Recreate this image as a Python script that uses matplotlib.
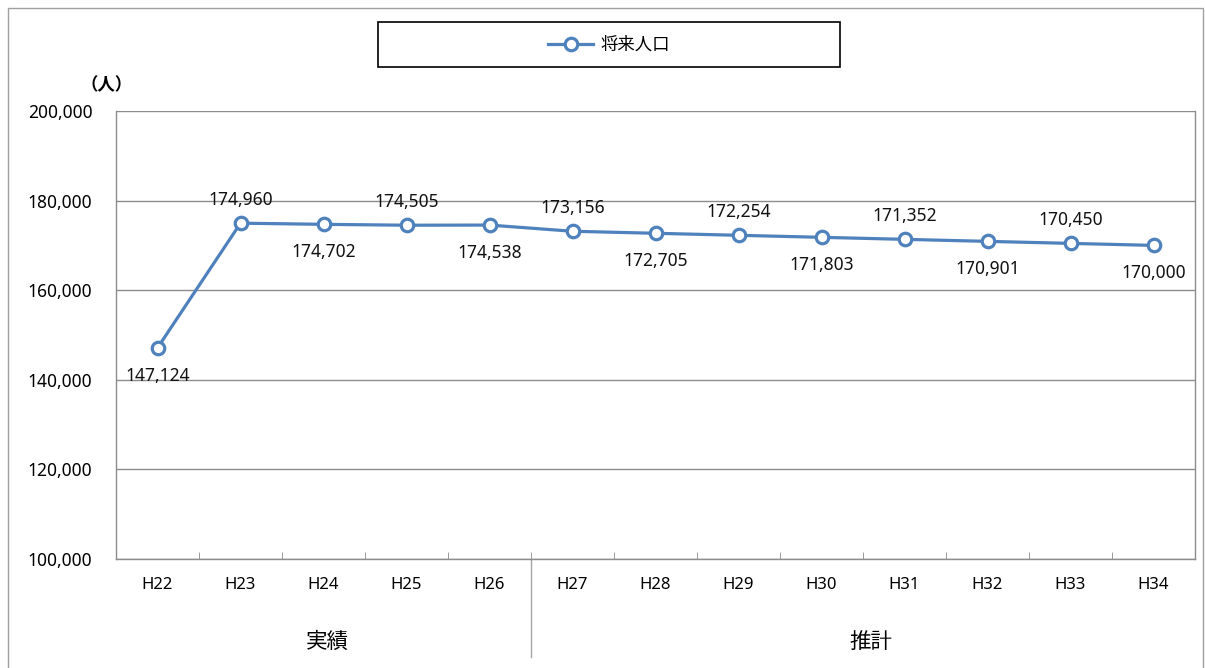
import matplotlib
matplotlib.use('Agg')
import matplotlib.pyplot as plt
from matplotlib.patches import Rectangle
from matplotlib.lines import Line2D
import matplotlib.transforms as mtransforms

plt.rcParams['font.family'] = ['Noto Sans', 'Noto Sans CJK JP', 'DejaVu Sans']

# 将来人口の実績と推計
years = ['H22', 'H23', 'H24', 'H25', 'H26', 'H27', 'H28',
         'H29', 'H30', 'H31', 'H32', 'H33', 'H34']
population = [147124, 174960, 174702, 174505, 174538, 173156, 172705,
              172254, 171803, 171352, 170901, 170450, 170000]
groups = ['実績', '推計']
n_actual = 5

W, H = 1205, 668
fig = plt.figure(figsize=(W / 100, H / 100), dpi=100)
ax = fig.add_axes([116 / W, 1 - 559 / H, (1195 - 116) / W, (559 - 111) / H])

blue = '#4F81BD'
grid = '#8C8C8C'

x = list(range(len(years)))
ax.plot(x, population, color=blue, lw=2.3, marker='o', ms=9,
        mfc='white', mec=blue, mew=2.3, zorder=3, clip_on=False)

# ラベルは上下交互
for i, v in enumerate(population):
    above = (i % 2 == 1)
    ax.annotate(f'{v:,}', (i, v), xytext=(0, 17 if above else -20),
                textcoords='offset points', ha='center', va='center',
                fontsize=12.5, color='#111111')

ax.set_xlim(-0.5, len(years) - 0.5)
ax.set_ylim(100000, 200000)
ax.set_yticks(range(100000, 200001, 20000))
ax.set_yticklabels([f'{v:,}' for v in range(100000, 200001, 20000)], fontsize=12.5)
ax.set_xticks(x)
ax.set_xticklabels(years, fontsize=12)
ax.tick_params(axis='x', length=0, pad=13)
ax.tick_params(axis='y', length=0, pad=17)
ax.set_xticks([i + 0.5 for i in range(len(years) - 1)], minor=True)
ax.tick_params(axis='x', which='minor', direction='in', length=5, color=grid)

ax.grid(axis='y', color=grid, lw=1)
ax.set_axisbelow(True)
for s in ax.spines.values():
    s.set_color(grid)
    s.set_linewidth(1)
ax.spines['top'].set_visible(False)

# 実績／推計の区切り線とグループ名
trans = mtransforms.blended_transform_factory(ax.transData, ax.transAxes)
ax.add_line(Line2D([n_actual - 0.5] * 2, [0, -(657 - 559) / (559 - 111)],
                   transform=trans, color='#A6A6A6', lw=1, clip_on=False))
ax.text((n_actual - 1) / 2 + 0.05, -(642 - 559) / (559 - 111), groups[0],
        transform=trans, ha='center', va='center', fontsize=15.5)
ax.text((n_actual + len(years) - 1) / 2 + 0.1, -(642 - 559) / (559 - 111), groups[1],
        transform=trans, ha='center', va='center', fontsize=15.5)

fig.text(107 / W, 1 - 85 / H, '（人）', ha='center', va='center',
         fontsize=12.5, fontweight='bold')

# 凡例
fig.patches.append(Rectangle((378 / W, 1 - 67 / H), (840 - 378) / W, 45 / H,
                             transform=fig.transFigure, fill=False,
                             edgecolor='black', lw=1.2))
handle = Line2D([], [], color=blue, lw=2.3, marker='o', ms=9,
                mfc='white', mec=blue, mew=2.3)
fig.legend([handle], ['将来人口'], loc='center', bbox_to_anchor=(609 / W, 1 - 45 / H),
           frameon=False, fontsize=12.5, handlelength=2.6, handletextpad=0.4)

# 外枠
fig.patches.append(Rectangle((8 / W, -0.01), (1203 - 8) / W, 1.01 - 8 / H,
                             transform=fig.transFigure, fill=False,
                             edgecolor='#A0A0A0', lw=1))

fig.savefig('out.png', dpi=100)
